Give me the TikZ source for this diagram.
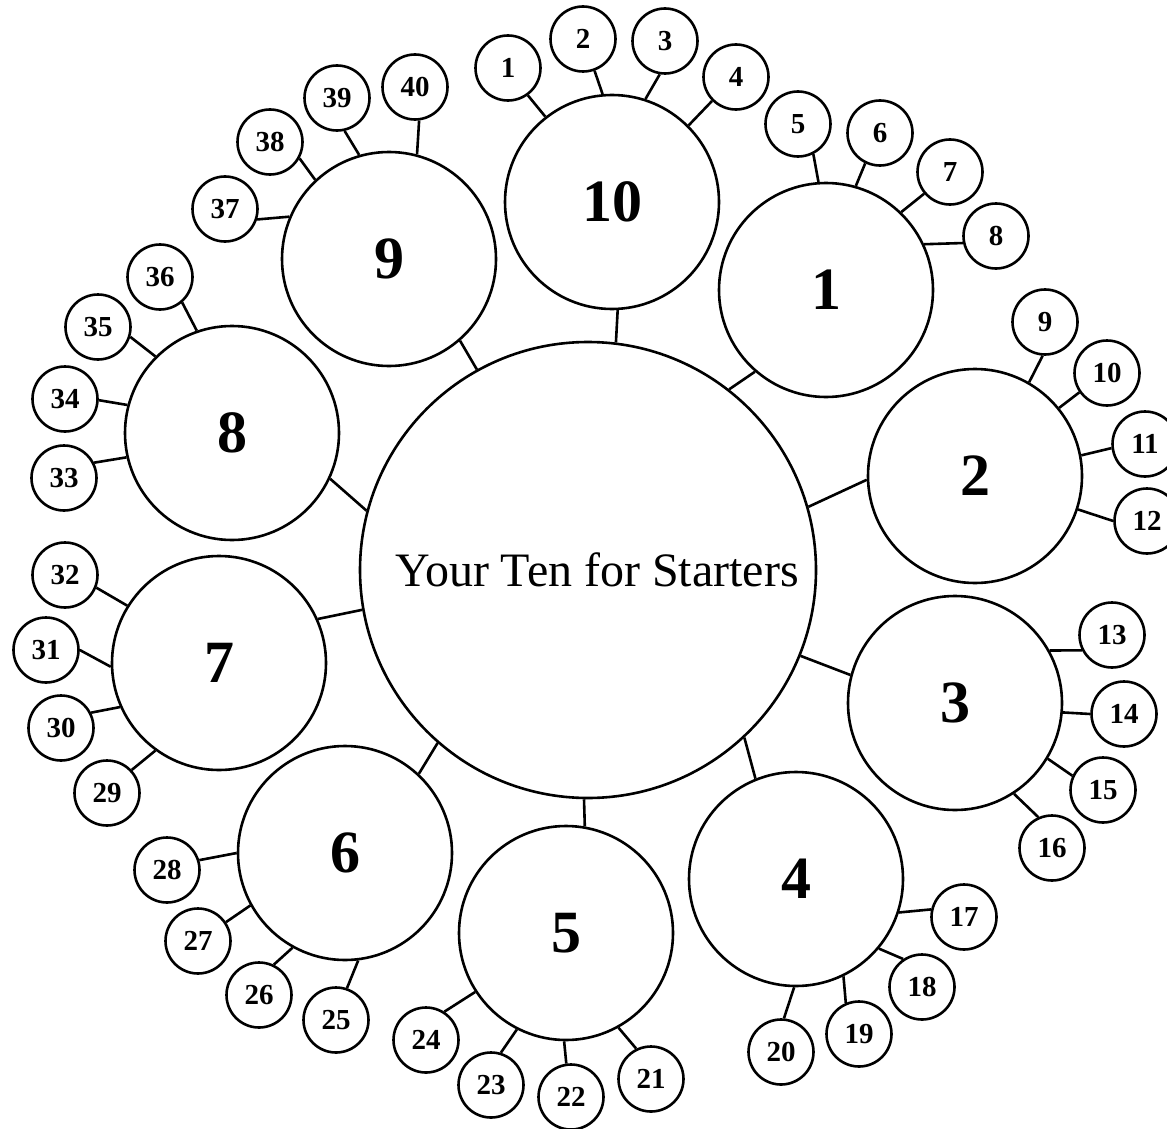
\documentclass[tikz,border=0pt]{standalone}
\usepackage{fontspec}
\setmainfont{Liberation Serif}
\begin{document}
\begin{tikzpicture}[x=1pt,y=-1pt,line width=2.6pt,
  centre/.style={circle,draw,minimum size=456pt,inner sep=0pt,font=\fontsize{48}{52}\selectfont},
  topic/.style={circle,draw,minimum size=214pt,inner sep=0pt,font=\bfseries\fontsize{60}{62}\selectfont},
  item/.style={circle,draw,minimum size=65pt,inner sep=0pt,font=\bfseries\fontsize{29}{31}\selectfont},
  link/.style={draw,line width=2.6pt}]
\useasboundingbox (0,0) rectangle (1167,1129);
% centre
\node[centre] (C) at (588,570) {\hspace*{18pt}Your Ten for Starters};
% topics
\foreach \n/\x/\y in {10/612/202, 1/826/290, 2/975/476, 3/955/703, 4/796/879,
  5/566/933, 6/345/853, 7/219/663, 8/232/433, 9/389/259}
  \node[topic] (c\n) at (\x,\y) {\n};
% items
\foreach \n/\x/\y in {1/508/68, 2/583/39, 3/665/41, 4/736/77,
  5/798/124, 6/880/133, 7/950/172, 8/996/236,
  9/1045/322, 10/1107/373, 11/1145/444, 12/1147/521,
  13/1112/635, 14/1124/714, 15/1103/790, 16/1052/848,
  17/964/917, 18/922/987, 19/859/1034, 20/781/1052,
  21/651/1079, 22/571/1097, 23/491/1085, 24/426/1040,
  25/336/1020, 26/259/995, 27/198/941, 28/167/870,
  29/107/793, 30/61/728, 31/46/650, 32/65/575,
  33/64/478, 34/65/399, 35/98/327, 36/160/277,
  37/225/209, 38/270/142, 39/337/98, 40/415/87}
  \node[item] (s\n) at (\x,\y) {\n};
% connectors
\foreach \a/\b/\p/\q in {
  s1/c10/-54/128, s2/c10/-70/95, s3/c10/-99/72, s4/c10/-135/45, c10/C/-87/83,
  s5/c1/-63/94, s6/c1/-116/74, s7/c1/-140/46, s8/c1/-168/25, c1/C/-131/52,
  s9/c2/-94/60, s10/c2/-145/39, s11/c2/-173/11, s12/c2/180/-18, c2/C/182/16,
  s13/c3/-153/29, s14/c3/180/-5, s15/c3/155/-31, s16/c3/114/-57, c3/C/165/-22,
  s17/c4/167/-18, s18/c4/124/-40, s19/c4/113/-64, s20/c4/85/-91, c4/C/112/-47,
  s21/c5/116/-61, s22/c5/98/-91, s23/c5/73/-117, s24/c5/57/-147, c5/C/80/-91,
  s25/c6/71/-83, s26/c6/64/-119, s27/c6/34/-151, s28/c6/17/180, c6/C/47/-131,
  s29/c7/43/-126, s30/c7/27/-156, s31/c7/0/182, s32/c7/-22/148, c7/C/24/190,
  s33/c8/27/-167, s34/c8/-2/165, s35/c8/-17/135, s36/c8/-49/109, c8/C/-25/165,
  s37/c9/-18/157, s38/c9/-29/133, s39/c9/-77/106, s40/c9/-83/75, c9/C/-49/119}
  \path[link] (\a.\p) -- (\b.\q);
\end{tikzpicture}
\end{document}
